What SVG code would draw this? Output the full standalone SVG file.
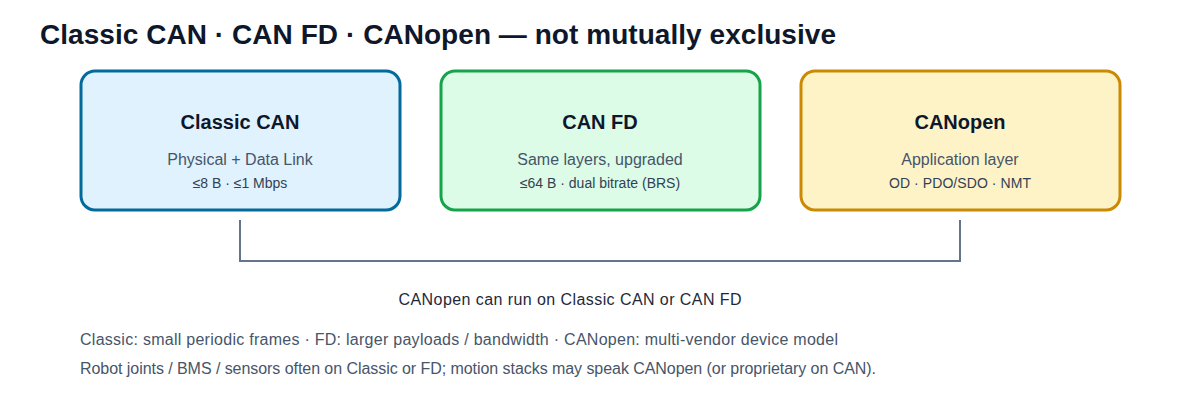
<svg xmlns="http://www.w3.org/2000/svg" width="1200" height="400" viewBox="0 0 1200 400">
<style>
text{font-family:"Liberation Sans",Arial,sans-serif}
.title{font-size:28px;font-weight:bold;fill:#0f172a}
.nt{font-size:20px;font-weight:bold;fill:#0f172a;text-anchor:middle}
.ns{font-size:16px;fill:#475569;text-anchor:middle}
.nd{font-size:14px;fill:#334155;text-anchor:middle}
.box{stroke-width:3}
.note{font-size:16px;fill:#475569}
.conn{fill:none;stroke:#64748b;stroke-width:2}
</style>
<rect width="1200" height="400" fill="#ffffff"/>
<text class="title" x="40" y="44" textLength="796">Classic CAN · CAN FD · CANopen — not mutually exclusive</text>
<g id="connectors">
<path class="conn" d="M240 220 V261 H960 V220"/>
</g>
<g id="classic-can">
<rect class="box" x="81" y="71" width="319" height="139" rx="14" fill="#e0f2fe" stroke="#036a9b"/>
<text class="nt" x="240" y="129">Classic CAN</text>
<text class="ns" x="240" y="165">Physical + Data Link</text>
<text class="nd" x="240" y="188" font-size="15">≤8 B · ≤1 Mbps</text>
</g>
<g id="can-fd">
<rect class="box" x="441" y="71" width="319" height="139" rx="14" fill="#dcfce7" stroke="#16a34a"/>
<text class="nt" x="600" y="129">CAN FD</text>
<text class="ns" x="600" y="165">Same layers, upgraded</text>
<text class="nd" x="600" y="188">≤64 B · dual bitrate (BRS)</text>
</g>
<g id="canopen">
<rect class="box" x="801" y="71" width="319" height="139" rx="14" fill="#fef3c7" stroke="#ca8a04"/>
<text class="nt" x="960" y="129">CANopen</text>
<text class="ns" x="960" y="165">Application layer</text>
<text class="nd" x="960" y="188" textLength="142">OD · PDO/SDO · NMT</text>
</g>
<text x="570" y="305" font-size="16" fill="#1e293b" text-anchor="middle" textLength="343">CANopen can run on Classic CAN or CAN FD</text>
<text class="note" x="80" y="345" textLength="758">Classic: small periodic frames · FD: larger payloads / bandwidth · CANopen: multi-vendor device model</text>
<text class="note" x="80" y="374" textLength="796">Robot joints / BMS / sensors often on Classic or FD; motion stacks may speak CANopen (or proprietary on CAN).</text>
</svg>
